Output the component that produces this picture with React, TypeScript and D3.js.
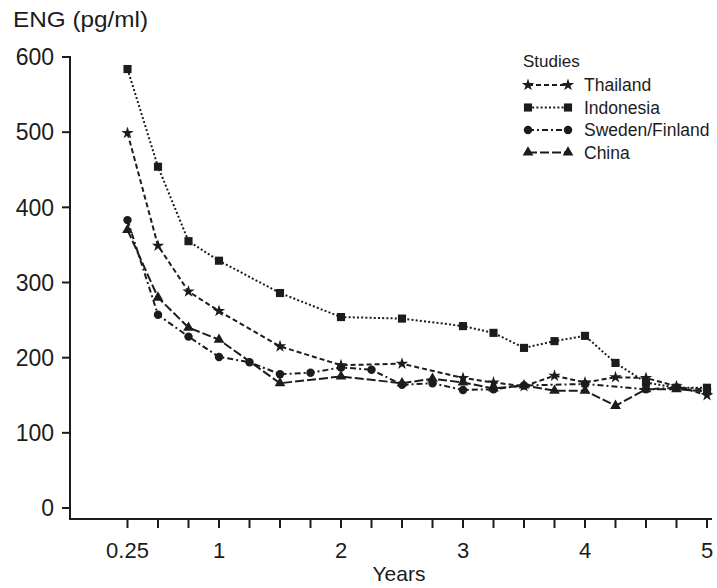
import React from 'react';
import * as d3 from 'd3';

// values (years, pg/ml)
const thailand: [number, number][] = [
  [0.25, 499], [0.5, 349], [0.75, 288], [1, 262], [1.5, 215], [2, 190], [2.5, 192],
  [3, 173], [3.25, 167], [3.5, 162], [3.75, 176], [4, 167], [4.25, 174], [4.5, 173],
  [4.75, 162], [5, 150],
];
const indonesia: [number, number][] = [
  [0.25, 584], [0.5, 454], [0.75, 355], [1, 329], [1.5, 286], [2, 254], [2.5, 252],
  [3, 242], [3.25, 233], [3.5, 213], [3.75, 222], [4, 229], [4.25, 193], [4.5, 167],
  [4.75, 160], [5, 160],
];
const swedenFinland: [number, number][] = [
  [0.25, 383], [0.5, 257], [0.75, 228], [1, 201], [1.25, 194], [1.5, 178], [1.75, 180],
  [2, 187], [2.25, 184], [2.5, 164], [2.75, 166], [3, 157], [3.25, 158], [3.5, 163],
  [4, 165], [4.5, 158], [4.75, 160], [5, 158],
];
const china: [number, number][] = [
  [0.25, 370], [0.5, 280], [0.75, 240], [1, 224], [1.5, 166], [2, 175], [2.5, 166],
  [2.75, 172], [3, 167], [3.25, 159], [3.5, 163], [3.75, 156], [4, 156], [4.25, 136],
  [4.5, 158], [4.75, 158], [5, 155],
];

const yTicks = [0, 100, 200, 300, 400, 500, 600];
const xTicks = d3.range(0.25, 5.01, 0.25);
const xLabels = [0.25, 1, 2, 3, 4, 5];

const series = [
  { name: 'Thailand', data: thailand, symbol: d3.symbolStar, size: 48, dash: '5,3' },
  { name: 'Indonesia', data: indonesia, symbol: d3.symbolSquare, size: 66, dash: '2,2.2' },
  { name: 'Sweden/Finland', data: swedenFinland, symbol: d3.symbolCircle, size: 56, dash: '6,3,2,3' },
  { name: 'China', data: china, symbol: d3.symbolTriangle, size: 50, dash: '9,3' },
];

const ink = '#1c1c1c';
const font = '"Liberation Sans", Arial, Helvetica, sans-serif';

export default function App() {
  const width = 717;
  const height = 588;
  const axisY = 519;
  const axisX = 70;

  const x = d3.scaleLinear().domain([1, 5]).range([219, 707]);
  const y = d3.scaleLinear().domain([0, 600]).range([508, 57]);

  const line = d3.line<[number, number]>()
    .x(d => x(d[0]))
    .y(d => y(d[1]));

  const fmt = (v: number) => (v === 0.25 ? '0.25' : String(v));

  return (
    <svg width={width} height={height} style={{ position: 'absolute', left: 0, top: 0, background: '#fff' }}
      fontFamily={font}>
      {/* y title */}
      <text x={13} y={27} fontSize={22} textLength={135} lengthAdjust="spacingAndGlyphs" fill={ink}>ENG (pg/ml)</text>

      {/* y axis */}
      <line x1={axisX} x2={axisX} y1={y(600) - 1} y2={axisY} stroke={ink} strokeWidth={2} />
      {yTicks.map(t => (
        <g key={t}>
          <line x1={axisX - 8} x2={axisX} y1={y(t)} y2={y(t)} stroke={ink} strokeWidth={2} />
          <text x={54} y={y(t)} dy="0.36em" textAnchor="end" fontSize={23} fill={ink}>{t}</text>
        </g>
      ))}

      {/* x axis */}
      <line x1={axisX - 1} x2={712} y1={axisY} y2={axisY} stroke={ink} strokeWidth={2} />
      {xTicks.map(t => (
        <line key={t} x1={x(t)} x2={x(t)} y1={axisY} y2={axisY + 9} stroke={ink} strokeWidth={2} />
      ))}
      {xLabels.map(t => (
        <text key={t} x={x(t)} y={558} textAnchor="middle" fontSize={22} fill={ink}>{fmt(t)}</text>
      ))}
      <text x={399} y={581} textAnchor="middle" fontSize={21} fill={ink}>Years</text>

      {/* series */}
      {series.map(s => (
        <g key={s.name}>
          <path d={line(s.data) || ''} fill="none" stroke={ink} strokeWidth={2} strokeDasharray={s.dash} />
          {s.data.map((d, i) => (
            <path key={i} transform={`translate(${x(d[0])},${y(d[1])})`}
              d={d3.symbol().type(s.symbol).size(s.size)() || ''} fill={ink} />
          ))}
        </g>
      ))}

      {/* legend */}
      <g>
        <text x={523} y={67} fontSize={17} fill={ink}>Studies</text>
        {series.map((s, i) => {
          const cy = 85 + i * 22.5;
          return (
            <g key={s.name}>
              <line x1={528} x2={568} y1={cy} y2={cy} stroke={ink} strokeWidth={2} strokeDasharray={s.dash} />
              <path transform={`translate(528,${cy})`} d={d3.symbol().type(s.symbol).size(s.size)() || ''} fill={ink} />
              <path transform={`translate(568,${cy})`} d={d3.symbol().type(s.symbol).size(s.size)() || ''} fill={ink} />
              <text x={584} y={cy} dy="0.36em" fontSize={17.5} fill={ink}>{s.name}</text>
            </g>
          );
        })}
      </g>
    </svg>
  );
}
